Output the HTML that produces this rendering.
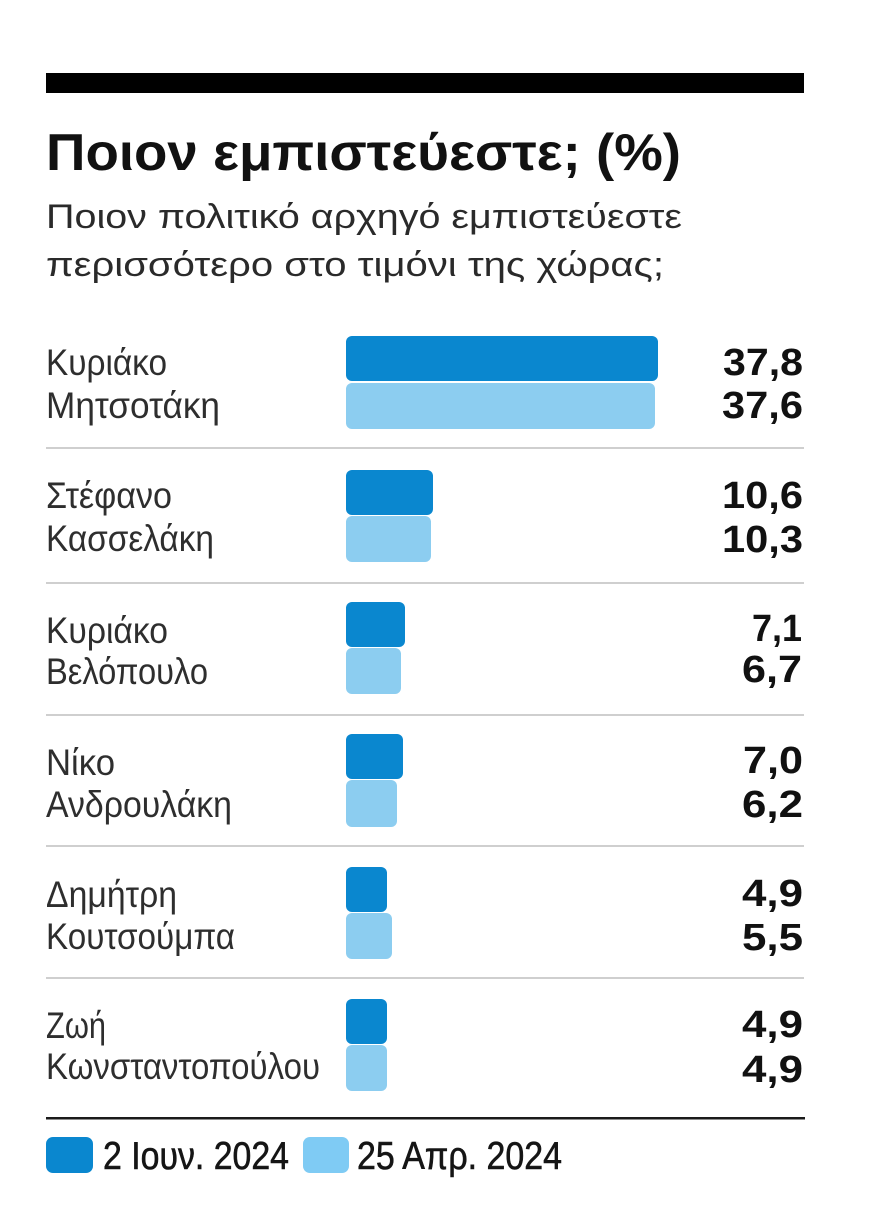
<!DOCTYPE html>
<html>
<head>
<meta charset="utf-8">
<style>
  html,body{margin:0;padding:0;background:#fff;}
  svg{display:block;}
  .t{font-family:"Liberation Sans","Noto Sans CJK SC",sans-serif;}
  .title{font-weight:bold;font-size:52px;fill:#111;}
  .sub{font-size:34px;fill:#2a2a2a;}
  .lab{font-size:37px;fill:#2e2e2e;}
  .val{font-weight:bold;font-size:38px;fill:#111;}
  .leg{font-size:39px;fill:#151515;stroke:#151515;stroke-width:0.6px;}
</style>
</head>
<body>
<svg width="880" height="1221" viewBox="0 0 880 1221" xmlns="http://www.w3.org/2000/svg">
  <rect x="0" y="0" width="880" height="1221" fill="#fff"/>
  <!-- top black bar -->
  <rect x="46" y="73" width="758" height="20" fill="#000"/>

  <!-- title -->
  <text class="t title" x="46" y="170" textLength="635" lengthAdjust="spacingAndGlyphs">Ποιον εμπιστεύεστε; (%)</text>
  <text class="t sub" x="46" y="228" textLength="636" lengthAdjust="spacingAndGlyphs">Ποιον πολιτικό αρχηγό εμπιστεύεστε</text>
  <text class="t sub" x="46" y="276" textLength="618" lengthAdjust="spacingAndGlyphs">περισσότερο στο τιμόνι της χώρας;</text>

  <!-- separators -->
  <g stroke="#cfcfcf" stroke-width="2">
    <line x1="46" y1="448" x2="804" y2="448"/>
    <line x1="46" y1="583" x2="804" y2="583"/>
    <line x1="46" y1="715" x2="804" y2="715"/>
    <line x1="46" y1="846" x2="804" y2="846"/>
    <line x1="46" y1="978" x2="804" y2="978"/>
  </g>

  <!-- Row 1 -->
  <rect x="346" y="383" width="309" height="46" rx="6" fill="#8ccdf0"/>
  <rect x="346" y="336" width="312" height="45" rx="6" fill="#0a87cf"/>
  <text class="t lab" x="46" y="375" textLength="121" lengthAdjust="spacingAndGlyphs">Κυριάκο</text>
  <text class="t lab" x="46" y="418" textLength="174" lengthAdjust="spacingAndGlyphs">Μητσοτάκη</text>
  <text class="t val" x="723" y="375" textLength="80" lengthAdjust="spacingAndGlyphs">37,8</text>
  <text class="t val" x="722" y="418" textLength="81" lengthAdjust="spacingAndGlyphs">37,6</text>

  <!-- Row 2 -->
  <rect x="346" y="516" width="85" height="46" rx="6" fill="#8ccdf0"/>
  <rect x="346" y="470" width="87" height="45" rx="6" fill="#0a87cf"/>
  <text class="t lab" x="46" y="508" textLength="126" lengthAdjust="spacingAndGlyphs">Στέφανο</text>
  <text class="t lab" x="46" y="551" textLength="168" lengthAdjust="spacingAndGlyphs">Κασσελάκη</text>
  <text class="t val" x="722" y="508" textLength="81" lengthAdjust="spacingAndGlyphs">10,6</text>
  <text class="t val" x="722" y="552" textLength="81" lengthAdjust="spacingAndGlyphs">10,3</text>

  <!-- Row 3 -->
  <rect x="346" y="648" width="55" height="46" rx="6" fill="#8ccdf0"/>
  <rect x="346" y="602" width="59" height="45" rx="6" fill="#0a87cf"/>
  <text class="t lab" x="46" y="643" textLength="122" lengthAdjust="spacingAndGlyphs">Κυριάκο</text>
  <text class="t lab" x="46" y="684" textLength="162" lengthAdjust="spacingAndGlyphs">Βελόπουλο</text>
  <text class="t val" x="752" y="641" textLength="50" lengthAdjust="spacingAndGlyphs">7,1</text>
  <text class="t val" x="742" y="682" textLength="60" lengthAdjust="spacingAndGlyphs">6,7</text>

  <!-- Row 4 -->
  <rect x="346" y="780" width="51" height="47" rx="6" fill="#8ccdf0"/>
  <rect x="346" y="734" width="57" height="45" rx="6" fill="#0a87cf"/>
  <text class="t lab" x="46" y="775" textLength="69" lengthAdjust="spacingAndGlyphs">Νίκο</text>
  <text class="t lab" x="46" y="817" textLength="186" lengthAdjust="spacingAndGlyphs">Ανδρουλάκη</text>
  <text class="t val" x="743" y="773" textLength="60" lengthAdjust="spacingAndGlyphs">7,0</text>
  <text class="t val" x="742" y="817" textLength="61" lengthAdjust="spacingAndGlyphs">6,2</text>

  <!-- Row 5 -->
  <rect x="346" y="913" width="46" height="46" rx="6" fill="#8ccdf0"/>
  <rect x="346" y="867" width="41" height="45" rx="6" fill="#0a87cf"/>
  <text class="t lab" x="46" y="907" textLength="131" lengthAdjust="spacingAndGlyphs">Δημήτρη</text>
  <text class="t lab" x="46" y="949" textLength="189" lengthAdjust="spacingAndGlyphs">Κουτσούμπα</text>
  <text class="t val" x="742" y="906" textLength="61" lengthAdjust="spacingAndGlyphs">4,9</text>
  <text class="t val" x="742" y="950" textLength="61" lengthAdjust="spacingAndGlyphs">5,5</text>

  <!-- Row 6 -->
  <rect x="346" y="1045" width="41" height="46" rx="6" fill="#8ccdf0"/>
  <rect x="346" y="999" width="41" height="45" rx="6" fill="#0a87cf"/>
  <text class="t lab" x="46" y="1038" textLength="60" lengthAdjust="spacingAndGlyphs">Ζωή</text>
  <text class="t lab" x="46" y="1079" textLength="274" lengthAdjust="spacingAndGlyphs">Κωνσταντοπούλου</text>
  <text class="t val" x="742" y="1037" textLength="61" lengthAdjust="spacingAndGlyphs">4,9</text>
  <text class="t val" x="742" y="1082" textLength="61" lengthAdjust="spacingAndGlyphs">4,9</text>

  <!-- bottom black line -->
  <rect x="46" y="1117" width="759" height="2.5" fill="#1a1a1a"/>

  <!-- legend -->
  <rect x="46" y="1137" width="47" height="36" rx="7" fill="#0a87cf"/>
  <text class="t leg" x="103" y="1169" textLength="186" lengthAdjust="spacingAndGlyphs">2 Ιουν. 2024</text>
  <rect x="303" y="1137" width="46" height="36" rx="7" fill="#7fcbf4"/>
  <text class="t leg" x="357" y="1169" textLength="205" lengthAdjust="spacingAndGlyphs">25 Απρ. 2024</text>
</svg>
</body>
</html>
